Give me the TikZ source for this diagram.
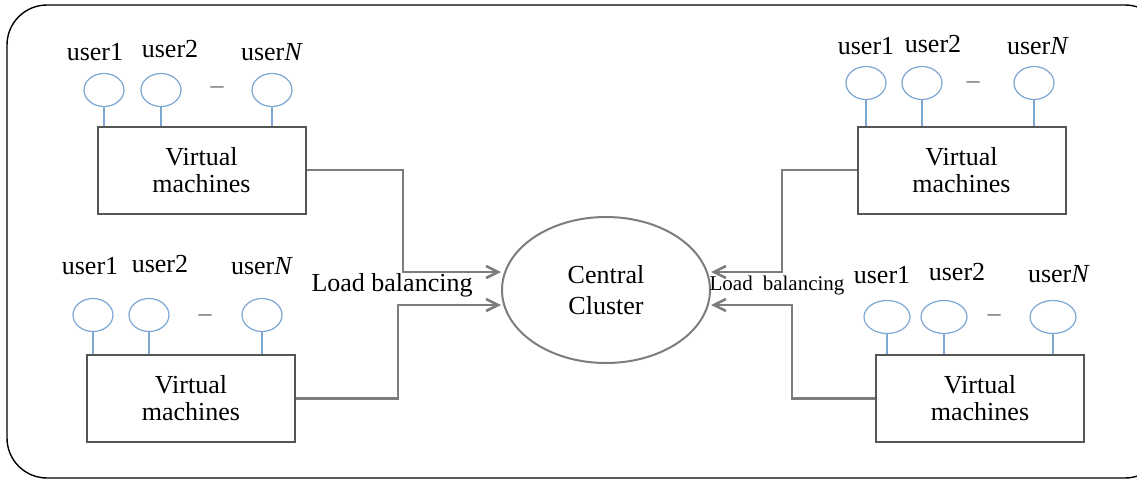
\documentclass[tikz,border=0pt]{standalone}
\usepackage{fontspec}
\setmainfont{Liberation Serif}
\usetikzlibrary{positioning, calc, arrows.meta, shapes.geometric}
\definecolor{userblue}{RGB}{125,168,212}
\definecolor{linkgray}{RGB}{125,125,125}
\definecolor{boxgray}{RGB}{85,85,85}

\begin{document}
\begin{tikzpicture}[x=0.5pt,y=-0.5pt,
    vmbox/.style={draw=boxgray, line width=1pt, minimum width=104pt, minimum height=43.5pt, align=center, inner sep=0pt, font=\fontsize{13}{13.5}\selectfont},
    user/.style={ellipse, draw=userblue, line width=0.6pt, minimum width=20pt, minimum height=16.5pt, inner sep=0pt},
    ulabel/.style={inner sep=0pt, font=\fontsize{13}{15}\selectfont},
    udots/.style={inner sep=0pt, text=black!60, font=\fontsize{13}{15}\selectfont},
    ulink/.style={draw=userblue, line width=0.8pt},
    lb/.style={draw=linkgray, line width=1.3pt, -{Straight Barb[length=6pt,width=6pt]}}]
      \useasboundingbox (0,0) rectangle (1137,482);
      \draw[line width=0.7pt, rounded corners=20pt] (7,5) rectangle (1165,478);

      \node[ellipse, draw=linkgray, line width=1pt, minimum width=104pt, minimum height=73pt, align=center, font=\fontsize{13}{15.5}\selectfont] (CC) at (606,290) {Central\\Cluster};

      \node[vmbox] (VM1) at (201.5,170) {Virtual\\machines};
      \node[vmbox] (VM2) at (191,398.5) {Virtual\\machines};
      \node[vmbox] (VM3) at (961.5,170) {Virtual\\machines};
      \node[vmbox] (VM4) at (980,398.5) {Virtual\\machines};

      \node[user] (A1) at (104,90) {};
      \node[user] (A2) at (161,90) {};
      \node[user] (A3) at (272,90) {};
      \node[udots] (A0) at (217,90) {--};
      \node[ulabel] (LA1) at (95,52) {user1};
      \node[ulabel] (LA2) at (170,49) {user2};
      \node[ulabel] (LA3) at (272,52) {user\textit{N}};

      \node[user] (B1) at (93,315) {};
      \node[user] (B2) at (149,315) {};
      \node[user] (B3) at (262,315) {};
      \node[udots] (B0) at (205,318) {--};
      \node[ulabel] (LB1) at (90,266) {user1};
      \node[ulabel] (LB2) at (160,264) {user2};
      \node[ulabel] (LB3) at (262,266) {user\textit{N}};

      \node[user] (C1) at (866,83) {};
      \node[user] (C2) at (922,83) {};
      \node[user] (C3) at (1034,83) {};
      \node[udots] (C0) at (973,85) {--};
      \node[ulabel] (LC1) at (866,46) {user1};
      \node[ulabel] (LC2) at (933,44) {user2};
      \node[ulabel] (LC3) at (1038,46) {user\textit{N}};

      \node[user, minimum width=23pt] (D1) at (887,317) {};
      \node[user, minimum width=23pt] (D2) at (944,317) {};
      \node[user, minimum width=23pt] (D3) at (1053,317) {};
      \node[udots] (D0) at (994,318) {--};
      \node[ulabel] (LD1) at (882,275) {user1};
      \node[ulabel] (LD2) at (957,272) {user2};
      \node[ulabel] (LD3) at (1059,274) {user\textit{N}};

      \node[inner sep=0pt, font=\fontsize{13}{15}\selectfont] (LBL1) at (392,285) {Load balancing};
      \node[inner sep=0pt, font=\fontsize{10.5}{12}\selectfont] (LBL2) at (777,285) {Load\hspace{5pt}balancing};

      \draw[ulink] (A1) -- (A1 |- VM1.north);
      \draw[ulink] (A2) -- (A2 |- VM1.north);
      \draw[ulink] (A3) -- (A3 |- VM1.north);
      \draw[ulink] (B1) -- (B1 |- VM2.north);
      \draw[ulink] (B2) -- (B2 |- VM2.north);
      \draw[ulink] (B3) -- (B3 |- VM2.north);
      \draw[ulink] (C1) -- (C1 |- VM3.north);
      \draw[ulink] (C2) -- (C2 |- VM3.north);
      \draw[ulink] (C3) -- (C3 |- VM3.north);
      \draw[ulink] (D1) -- (D1 |- VM4.north);
      \draw[ulink] (D2) -- (D2 |- VM4.north);
      \draw[ulink] (D3) -- (D3 |- VM4.north);

      \coordinate (K1) at (403,272);
      \coordinate (K2) at (398,305);
      \coordinate (K3) at (782,272);
      \coordinate (K4) at (792,305);
      \draw[lb] (VM1.east) -| (K1) -- (K1 -| CC.west);
      \draw[lb] (VM2.east) -| (K2) -- (K2 -| CC.west);
      \draw[lb] (VM3.west) -| (K3) -- (K3 -| CC.east);
      \draw[lb] (VM4.west) -| (K4) -- (K4 -| CC.east);
    \end{tikzpicture}
\end{document}
